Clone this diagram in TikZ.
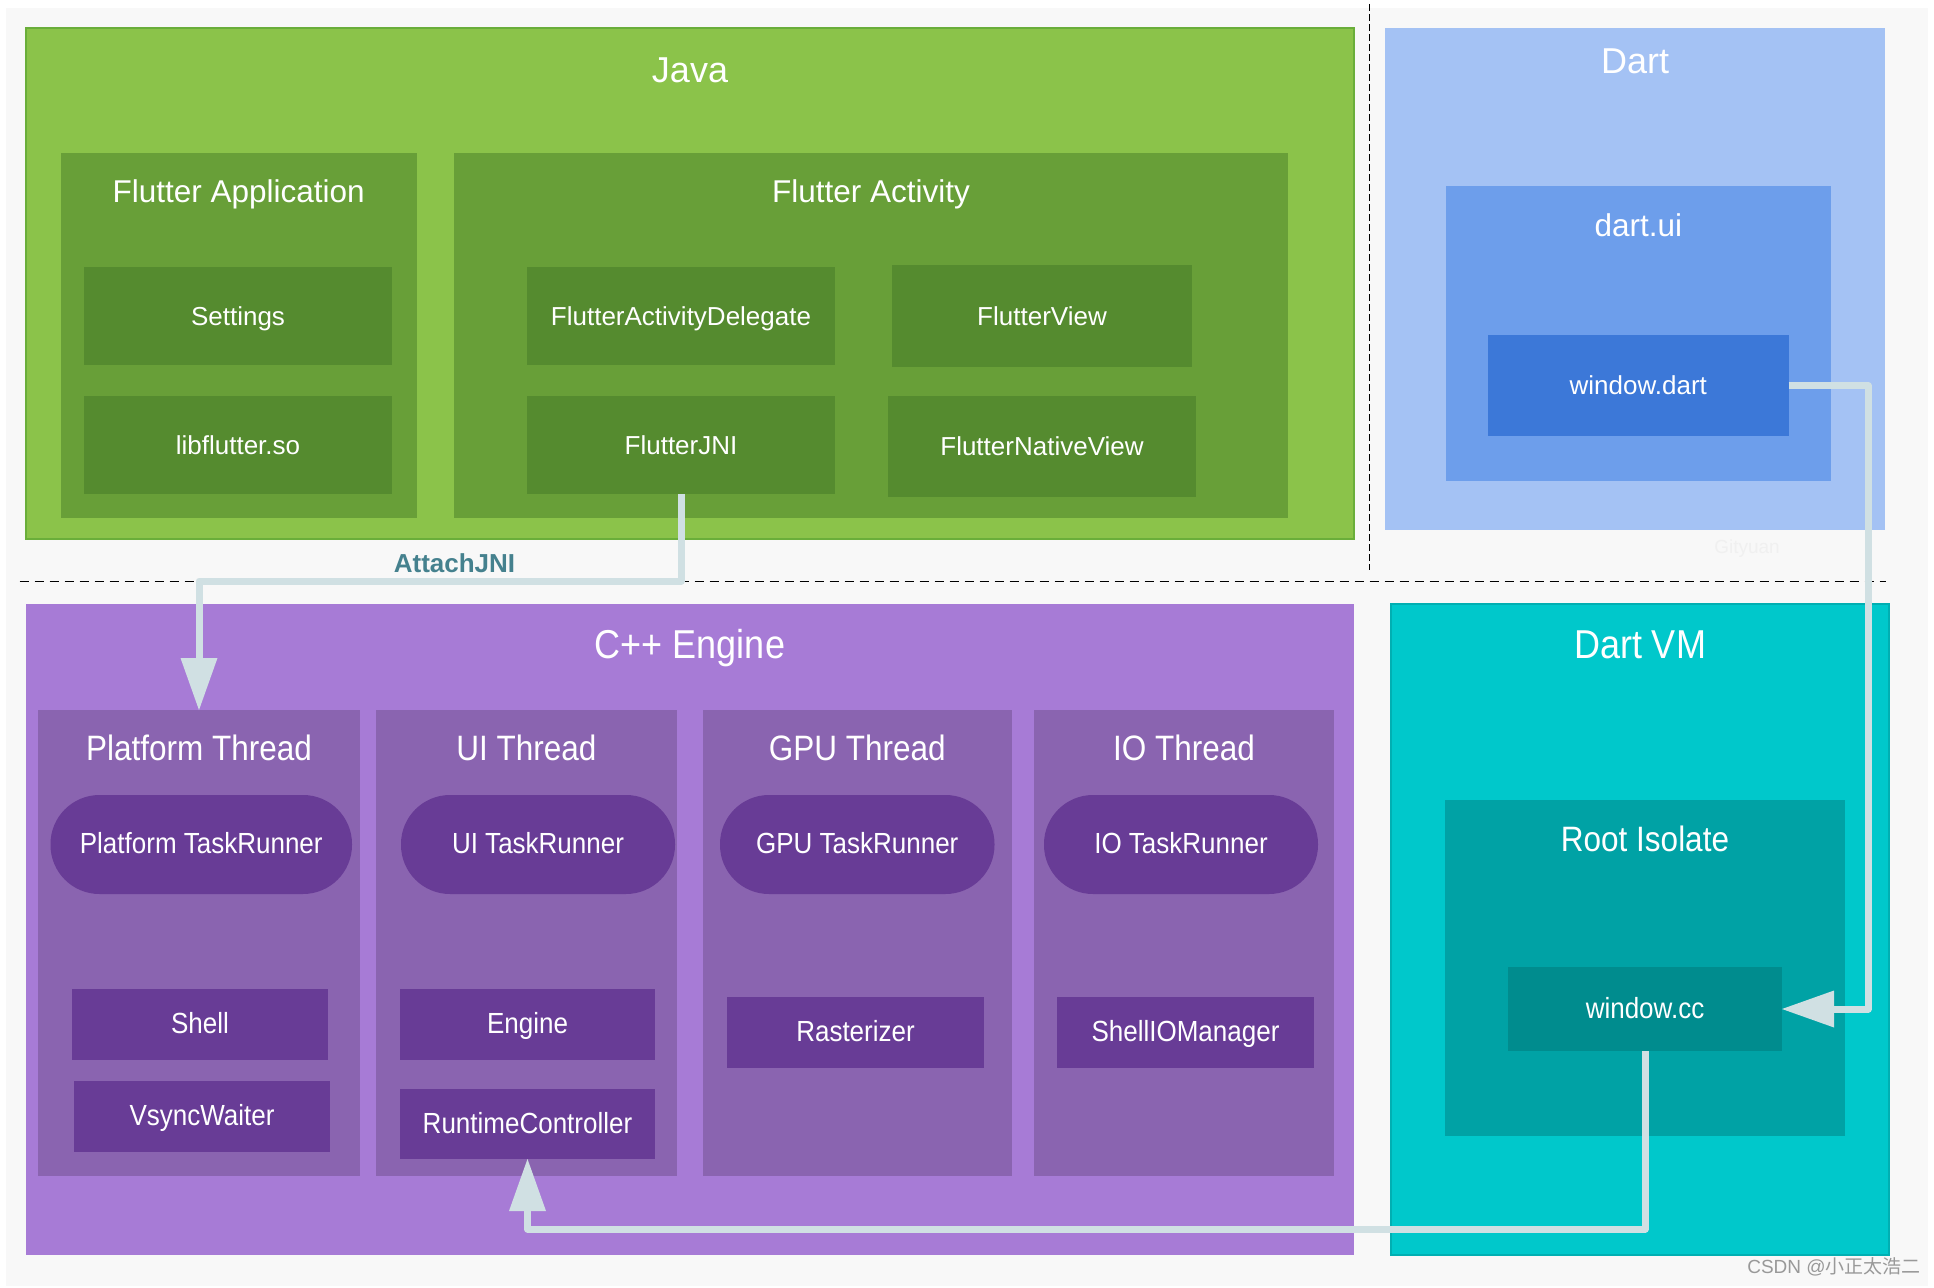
\documentclass[tikz,border=0pt]{standalone}
\usepackage{fontspec}
\setmainfont{Liberation Sans}
\newfontfamily\cjk{Noto Sans CJK SC}
\usepackage{graphicx}
\usetikzlibrary{arrows.meta,calc}
\definecolor{bgc}{HTML}{F8F8F8}
\definecolor{javac}{HTML}{8BC34A}
\definecolor{javab}{HTML}{6AAE3A}
\definecolor{grp}{HTML}{689F38}
\definecolor{itm}{HTML}{558B2F}
\definecolor{dartc}{HTML}{A4C2F4}
\definecolor{dartui}{HTML}{6D9EEB}
\definecolor{wdart}{HTML}{3C78D8}
\definecolor{engc}{HTML}{A77BD6}
\definecolor{thr}{HTML}{8A64B0}
\definecolor{pitm}{HTML}{683C96}
\definecolor{vmc}{HTML}{00C8CB}
\definecolor{vmb}{HTML}{00AFB2}
\definecolor{rootc}{HTML}{00A2A5}
\definecolor{wccc}{HTML}{008C8E}
\definecolor{connc}{HTML}{D0E0E3}
\definecolor{attc}{HTML}{45818E}
\newcommand\vs[1]{\scalebox{1}[1.12]{#1}}
\begin{document}
\begin{tikzpicture}[x=1pt,y=-1pt,
  bx/.style={anchor=north west,inner sep=0pt,outer sep=0pt,draw=none,text=white},
  big/.style={inner sep=0pt,text=white,text height=25.8pt,text depth=0pt,font=\fontsize{36}{40}\selectfont},
  ttl/.style={inner sep=0pt,text=white,text height=22.2pt,text depth=0pt,font=\fontsize{31.5}{36}\selectfont},
  itx/.style={text height=18.6pt,text depth=0pt,font=\fontsize{26}{30}\selectfont},
  run/.style={bx,fill=pitm,itx,rounded corners=49pt,minimum height=99pt},
  cn/.style={draw=connc,line width=7pt,line join=round,-{Triangle[width=37pt,length=52pt,line width=0pt]}}]
\useasboundingbox (0,0) rectangle (1934,1287);
\fill[bgc] (6,8) rectangle (1928,1286);
% dashed separators
\coordinate (dl) at (19.6,581.5);
\coordinate (dr) at (1886,581.5);
\coordinate (vt) at (1369.5,4);
\coordinate (vb) at (1369.5,570);
\draw[black,line width=1.4pt,dash pattern=on 9pt off 6pt] (dl) -- (dr);
\draw[black,line width=1.1pt,dash pattern=on 7pt off 3pt] (vt) -- (vb);
% Java
\node[bx,fill=javac,draw=javab,line width=1.5pt,minimum width=1328pt,minimum height=511pt] (java) at (26,28) {};
\node[big] (javat) at ([yshift=-42pt]java.north) {Java};
\node[bx,fill=grp,minimum width=355.5pt,minimum height=365pt] (fapp) at (61,153) {};
\node[ttl] (fappt) at ([yshift=-38pt]fapp.north) {Flutter Application};
\node[bx,fill=itm,itx,minimum width=308pt,minimum height=98pt] (settings) at (84,267) {Settings};
\node[bx,fill=itm,itx,minimum width=308pt,minimum height=98pt] (libf) at (84,396) {libflutter.so};
\node[bx,fill=grp,minimum width=834pt,minimum height=365pt] (fact) at (454,153) {};
\node[ttl] (factt) at ([yshift=-38pt]fact.north) {Flutter Activity};
\node[bx,fill=itm,itx,minimum width=308pt,minimum height=98pt] (fad) at (527,267) {FlutterActivityDelegate};
\node[bx,fill=itm,itx,minimum width=300pt,minimum height=102pt] (fview) at (892,265) {FlutterView};
\node[bx,fill=itm,itx,minimum width=308pt,minimum height=98pt] (jni) at (527,396) {FlutterJNI};
\node[bx,fill=itm,itx,minimum width=308pt,minimum height=101pt] (fnv) at (888,396) {FlutterNativeView};
% Dart
\node[bx,fill=dartc,minimum width=500pt,minimum height=502pt] (dart) at (1385,28) {};
\node[big] (dartt) at ([yshift=-33pt]dart.north) {Dart};
\node[bx,fill=dartui,minimum width=384.5pt,minimum height=295pt] (dui) at (1446,186) {};
\node[ttl] (duit) at ([yshift=-39pt]dui.north) {dart.ui};
\node[bx,fill=wdart,itx,minimum width=300.5pt,minimum height=101pt] (wd) at (1488,335) {window.dart};
\node[text=black!6,font=\fontsize{19}{22}\selectfont] (gity) at (1747,549) {Gityuan};
% C++ Engine
\node[bx,fill=engc,minimum width=1328pt,minimum height=651pt] (eng) at (26,604) {};
\node[big] (engt) at ([yshift=-41.5pt]eng.north) {\vs{C++ Engine}};
\node[bx,fill=thr,minimum width=322pt,minimum height=466pt] (pt) at (38,710) {};
\node[ttl] (ptt) at ([yshift=-39.5pt]pt.north) {\vs{Platform Thread}};
\node[bx,fill=thr,minimum width=301pt,minimum height=466pt] (uit) at (376,710) {};
\node[ttl] (uitt) at ([yshift=-39.5pt]uit.north) {\vs{UI Thread}};
\node[bx,fill=thr,minimum width=308.5pt,minimum height=466pt] (gput) at (703,710) {};
\node[ttl] (gputt) at ([yshift=-39.5pt]gput.north) {\vs{GPU Thread}};
\node[bx,fill=thr,minimum width=300pt,minimum height=466pt] (iot) at (1034,710) {};
\node[ttl] (iott) at ([yshift=-39.5pt]iot.north) {\vs{IO Thread}};
\node[run,minimum width=301.5pt] (ptr) at (50.5,795) {\vs{Platform TaskRunner}};
\node[run,minimum width=274pt] (uitr) at (401,795) {\vs{UI TaskRunner}};
\node[run,minimum width=274.5pt] (gputr) at (720,795) {\vs{GPU TaskRunner}};
\node[run,minimum width=274pt] (iotr) at (1044,795) {\vs{IO TaskRunner}};
\node[bx,fill=pitm,itx,minimum width=256pt,minimum height=71pt] (shell) at (72,989) {\vs{Shell}};
\node[bx,fill=pitm,itx,minimum width=256pt,minimum height=71pt] (vsync) at (74,1081) {\vs{VsyncWaiter}};
\node[bx,fill=pitm,itx,minimum width=255pt,minimum height=71pt] (engi) at (400,989) {\vs{Engine}};
\node[bx,fill=pitm,itx,minimum width=255pt,minimum height=70pt] (rc) at (400,1089) {\vs{RuntimeController}};
\node[bx,fill=pitm,itx,minimum width=257pt,minimum height=71pt] (rast) at (727,997) {\vs{Rasterizer}};
\node[bx,fill=pitm,itx,minimum width=257pt,minimum height=71pt] (siom) at (1057,997) {\vs{ShellIOManager}};
% Dart VM
\node[bx,fill=vmc,draw=vmb,line width=1.2pt,minimum width=498pt,minimum height=651pt] (vm) at (1391,604) {};
\node[big] (vmt) at ([yshift=-41.5pt]vm.north) {\vs{Dart VM}};
\node[bx,fill=rootc,minimum width=400pt,minimum height=336pt] (root) at (1445,800) {};
\node[ttl] (roott) at ([yshift=-40pt]root.north) {\vs{Root Isolate}};
\node[bx,fill=wccc,itx,minimum width=274pt,minimum height=84pt] (wcc) at (1508,967) {\vs{window.cc}};
% connectors
\coordinate (hj) at (0,581);
\coordinate (vr) at (1868,0);
\coordinate (hb) at (0,1229);
\draw[cn] (jni.south) -- (jni.south |- hj) -| (pt.north);
\draw[cn] (wd.east) -- (wd.east -| vr) |- (wcc.east);
\draw[cn] (wcc.south) -- (wcc.south |- hb) -| (rc.south);
\node[text=attc,font=\bfseries\fontsize{26}{30}\selectfont,inner sep=0pt] (attl) at (454.5,563) {AttachJNI};
\node[text=black!40,font=\fontsize{19}{22}\selectfont,inner sep=0pt] (csdn) at (1834,1267) {CSDN @{\cjk 小正太浩二}};
\end{tikzpicture}
\end{document}
